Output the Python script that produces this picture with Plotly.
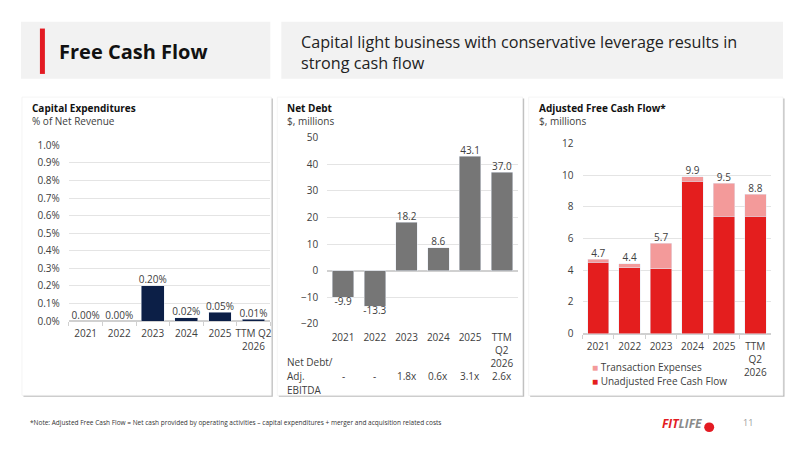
import plotly.graph_objects as go

# page body has an 8px margin: draw the figure inside it, map reference pixels onto it
OFF = 8
W, H = 800 - 2 * OFF, 450 - 2 * OFF
FONT = "Open Sans"
TXT = "#404040"

# ---------------- data ----------------
capex_cats = ["2021", "2022", "2023", "2024", "2025", "TTM Q2<br>2026"]
capex_vals = [0.00, 0.00, 0.20, 0.02, 0.05, 0.01]
capex_labels = ["0.00%", "0.00%", "0.20%", "0.02%", "0.05%", "0.01%"]

debt_cats = ["2021", "2022", "2023", "2024", "2025", "TTM<br>Q2<br>2026"]
debt_vals = [-9.9, -13.3, 18.2, 8.6, 43.1, 37.0]
debt_ratio = ["-", "-", "1.8x", "0.6x", "3.1x", "2.6x"]

fcf_cats = ["2021", "2022", "2023", "2024", "2025", "TTM<br>Q2<br>2026"]
fcf_unadj = [4.5, 4.15, 4.1, 9.6, 7.4, 7.4]
fcf_trans = [0.2, 0.25, 1.6, 0.3, 2.1, 1.4]
fcf_total = [4.7, 4.4, 5.7, 9.9, 9.5, 8.8]

COL_UNADJ = "#e41e1e"
COL_TRANS = "#f39a9a"

# ---------------- helpers ----------------
def px(x):
    return (x - OFF) / W

def py(y):
    return 1 - (y - OFF) / H

shapes = []
annotations = []

def rect(x0, y0, x1, y1, fill, line=None, lw=0):
    shapes.append(dict(type="rect", xref="paper", yref="paper", layer="below",
                       x0=px(x0), x1=px(x1), y0=py(y1), y1=py(y0),
                       fillcolor=fill, line=dict(color=line or fill, width=lw)))

def text(x, y, s, size=10, color=TXT, xanchor="left", yanchor="middle", bold=False):
    if bold:
        s = "<b>" + s + "</b>"
    annotations.append(dict(x=px(x), y=py(y), xref="paper", yref="paper", text=s,
                            showarrow=False, xanchor=xanchor, yanchor=yanchor, align="left",
                            font=dict(size=size, color=color, family=FONT)))

# header boxes
rect(21, 14, 271, 73, "#f2f2f2")
rect(282, 14, 785, 73, "#f2f2f2")
rect(40, 21, 45, 68, "#e31b23")
text(57, 44.5, "Free Cash Flow", size=20, color="#111111", bold=True)
text(300, 45.5, "Capital light business with conservative leverage results in<br>strong cash flow",
     size=16.2, color="#222222")

# cards (shadow + white)
for x0, x1 in [(22, 272), (278, 524), (530, 785)]:
    rect(x0 + 1.5, 92 + 1.5, x1 + 1.5, 401 + 1.5, "#bdbdbd")
    rect(x0, 92, x1, 401, "#ffffff", line="#eeeeee", lw=0.6)

# card titles
text(30, 103, "Capital Expenditures", size=10, color="#111111", bold=True)
text(30, 116.5, "% of Net Revenue", size=10, color=TXT)
text(286, 103, "Net Debt", size=10, color="#111111", bold=True)
text(286, 116.5, "$, millions", size=10, color=TXT)
text(538, 103, "Adjusted Free Cash Flow*", size=10, color="#111111", bold=True)
text(538, 116.5, "$, millions", size=10, color=TXT)

# net debt / EBITDA row (placed on the category axis of the middle chart)
text(286, 366, "Net Debt/", size=10, color=TXT)
text(286, 380.5, "Adj.", size=10, color=TXT)
text(286, 395, "EBITDA", size=10, color=TXT)
for i, r in enumerate(debt_ratio):
    annotations.append(dict(x=i, y=py(380.5), xref="x2", yref="paper", text=r, showarrow=False,
                            xanchor="center", yanchor="middle",
                            font=dict(size=10, color=TXT, family=FONT)))

# legend of the right chart
text(591, 372, f"<span style='color:{COL_TRANS}'>\u25A0</span> Transaction Expenses", size=10)
text(591, 386, f"<span style='color:{COL_UNADJ}'>\u25A0</span> Unadjusted Free Cash Flow", size=10)

# footer
text(28, 429, "*Note: Adjusted Free Cash Flow = Net cash provided by operating activities \u2013 capital expenditures + merger and acquisition related costs",
     size=6.5, color="#333333")
text(706, 430, "<b><i><span style='color:#e31b23'>FIT</span><span style='color:#8a8a8a'>LIFE</span></i></b>",
     size=12, xanchor="right")
shapes.append(dict(type="circle", xref="paper", yref="paper",
                   x0=px(706), x1=px(716), y0=py(439), y1=py(429),
                   fillcolor="#e31b23", line=dict(width=0)))
text(750, 429, "11", size=9, color="#9a9a9a", xanchor="center")

# ---------------- traces ----------------
fig = go.Figure()

fig.add_trace(go.Bar(x=capex_cats, y=capex_vals, marker_color="#0c1f47", xaxis="x", yaxis="y",
                     showlegend=False, hoverinfo="skip"))
fig.add_trace(go.Scatter(x=capex_cats, y=capex_vals, mode="text", text=capex_labels,
                         textposition="top center", textfont=dict(size=10, color=TXT, family=FONT),
                         xaxis="x", yaxis="y", showlegend=False, cliponaxis=False, hoverinfo="skip"))

fig.add_trace(go.Bar(x=debt_cats, y=debt_vals, marker_color="#767676", xaxis="x2", yaxis="y2",
                     showlegend=False, hoverinfo="skip"))
fig.add_trace(go.Scatter(x=debt_cats, y=debt_vals, mode="text",
                         text=[f"{v:.1f}" for v in debt_vals],
                         textposition=["bottom center" if v < 0 else "top center" for v in debt_vals],
                         textfont=dict(size=10, color=TXT, family=FONT),
                         xaxis="x2", yaxis="y2", showlegend=False, cliponaxis=False, hoverinfo="skip"))

fig.add_trace(go.Bar(x=fcf_cats, y=fcf_unadj, name="Unadjusted Free Cash Flow", marker_color=COL_UNADJ,
                     xaxis="x3", yaxis="y3", showlegend=False, hoverinfo="skip"))
fig.add_trace(go.Bar(x=fcf_cats, y=fcf_trans, name="Transaction Expenses", marker_color=COL_TRANS,
                     xaxis="x3", yaxis="y3", showlegend=False, hoverinfo="skip"))
fig.add_trace(go.Scatter(x=fcf_cats, y=fcf_total, mode="text", text=[f"{v:.1f}" for v in fcf_total],
                         textposition="top center", textfont=dict(size=10, color=TXT, family=FONT),
                         xaxis="x3", yaxis="y3", showlegend=False, cliponaxis=False, hoverinfo="skip"))

GRID = "#e4e4e4"
BASE = "#d0d0d0"
def xax(d0, d1, anchor, baseline=True):
    d = dict(domain=[px(d0), px(d1)], anchor=anchor, type="category", range=[-0.5, 5.5],
             showgrid=False, zeroline=False, fixedrange=True, tickangle=0,
             tickfont=dict(size=10, color=TXT, family=FONT))
    if baseline:
        d.update(showline=True, linecolor=BASE, linewidth=1, ticks="outside", tickson="boundaries",
                 ticklen=4, tickcolor=BASE, ticklabelstandoff=3)
    else:
        d.update(showline=False, ticks="", ticklabelstandoff=6)
    return d

def yax(d0, d1, rng, dtick, anchor, **kw):
    return dict(domain=[py(d0), py(d1)], anchor=anchor, range=rng, dtick=dtick,
                showgrid=True, gridcolor=GRID, gridwidth=1, zeroline=True, zerolinecolor=BASE,
                showline=False, ticks="", fixedrange=True, ticklabelstandoff=8,
                tickfont=dict(size=10, color=TXT, family=FONT), **kw)

fig.update_layout(
    width=W, height=H, margin=dict(l=0, r=0, t=0, b=0),
    paper_bgcolor="#ffffff", plot_bgcolor="rgba(0,0,0,0)",
    barmode="stack", bargap=0.32, showlegend=False,
    font=dict(family=FONT, color=TXT),
    xaxis=xax(69, 271, "y"),
    yaxis=yax(324, 142, [0, 1.0], 0.1, "x", tickformat=".1f", ticksuffix="%"),
    xaxis2=xax(328, 519, "y2", baseline=False),
    yaxis2=yax(327, 134, [-20, 50], 10, "x2"),
    xaxis3=xax(584, 773, "y3"),
    yaxis3=yax(337, 140, [0, 12], 2, "x3"),
    shapes=shapes, annotations=annotations,
)

fig.write_html("out.html")
